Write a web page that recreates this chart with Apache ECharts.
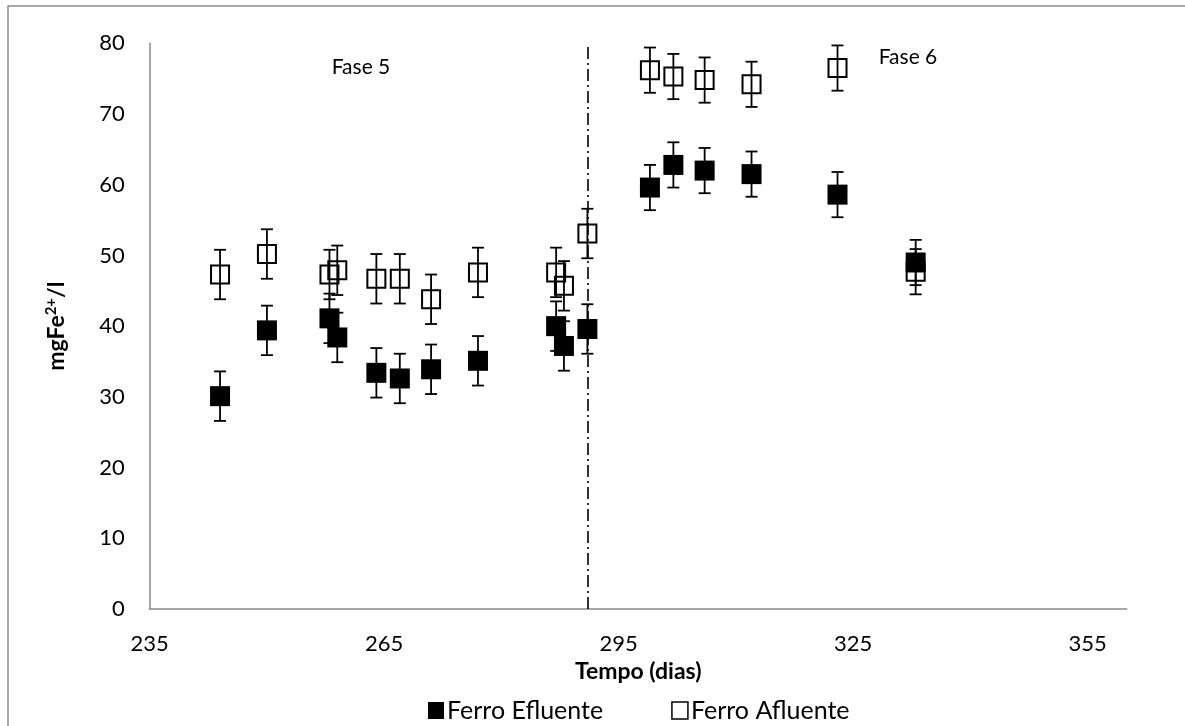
<!DOCTYPE html>
<html>
<head>
<meta charset="utf-8">
<script src="https://cdn.jsdelivr.net/npm/echarts@6/dist/echarts.min.js"></script>
<style>
  html, body { margin: 0; padding: 0; background: #fff; }
  #chart { width: 1185px; height: 726px; }
</style>
</head>
<body>
<div id="chart"></div>
<script>
// dados
const dias = [244, 250, 258, 259, 264, 267, 271, 277, 287, 288, 291, 299, 302, 306, 312, 323, 333];
const ferroEfluente = [30.1, 39.4, 41.1, 38.4, 33.4, 32.6, 33.9, 35.1, 40.0, 37.2, 39.6, 59.6, 62.8, 62.0, 61.5, 58.6, 49.0];
const ferroAfluente = [47.3, 50.2, 47.3, 47.9, 46.7, 46.7, 43.8, 47.6, 47.6, 45.7, 53.1, 76.2, 75.3, 74.8, 74.2, 76.5, 47.7];
const erroEfluente = [3.5, 3.5, 3.5, 3.5, 3.5, 3.5, 3.5, 3.5, 3.5, 3.5, 3.5, 3.2, 3.2, 3.2, 3.2, 3.2, 3.2];
const erroAfluente = [3.5, 3.5, 3.5, 3.5, 3.5, 3.5, 3.5, 3.5, 3.5, 3.5, 3.5, 3.2, 3.2, 3.2, 3.2, 3.2, 3.2];
const divisaoFases = 291;
const eixoX = { min: 235, max: 360, interval: 30 };
const eixoY = { min: 0, max: 80, interval: 10 };

const fonte = 'Lato';

const chart = echarts.init(document.getElementById('chart'));

const pontos = (ys, erros) => dias.map((d, i) => [d, ys[i], erros[i]]);

// barras de erro (linha vertical + tampas)
function barrasErro(params, api) {
    const x = api.value(0), y = api.value(1), e = api.value(2);
    const topo = api.coord([x, y + e]);
    const base = api.coord([x, y - e]);
    const estilo = { stroke: '#000', lineWidth: 1.8 };
    const cap = 6;
    return {
        type: 'group',
        children: [
            { type: 'line', shape: { x1: topo[0], y1: topo[1], x2: base[0], y2: base[1] }, style: estilo },
            { type: 'line', shape: { x1: topo[0] - cap, y1: topo[1], x2: topo[0] + cap, y2: topo[1] }, style: estilo },
            { type: 'line', shape: { x1: base[0] - cap, y1: base[1], x2: base[0] + cap, y2: base[1] }, style: estilo }
        ]
    };
}

const option = {
    animation: false,
    backgroundColor: '#fff',
    textStyle: { fontFamily: fonte, color: '#000' },
    grid: { left: 149.7, right: 58.3, top: 43.3, bottom: 117 },
    graphic: [
        {
            type: 'rect', silent: true, z: -1,
            shape: { x: 8, y: 6, width: 1400, height: 900 },
            style: { fill: 'none', stroke: '#8c8c8c', lineWidth: 1.5 }
        },
        {
            type: 'text', x: 361, y: 67,
            style: { text: 'Fase 5', align: 'center', verticalAlign: 'middle', font: '21px Lato', fill: '#000' }
        },
        {
            type: 'text', x: 908, y: 57,
            style: { text: 'Fase 6', align: 'center', verticalAlign: 'middle', font: '21px Lato', fill: '#000' }
        }
    ],
    legend: {
        left: 423,
        top: 693,
        itemWidth: 16,
        itemHeight: 17,
        itemGap: 68,
        textStyle: { fontFamily: fonte, fontSize: 25, color: '#000', padding: [0, 0, 0, -2] },
        data: [
            { name: 'Ferro Efluente', icon: 'rect', itemStyle: { color: '#000', borderWidth: 0 } },
            { name: 'Ferro Afluente', icon: 'rect', itemStyle: { color: '#fff', borderColor: '#000', borderWidth: 1.5 } }
        ]
    },
    xAxis: {
        type: 'value',
        min: eixoX.min, max: eixoX.max, interval: eixoX.interval,
        name: 'Tempo (dias)',
        nameLocation: 'middle',
        nameGap: 40,
        nameTextStyle: { fontFamily: fonte, fontWeight: 'bold', fontSize: 23, color: '#000' },
        axisLine: { onZero: false, lineStyle: { color: '#8a8a8a', width: 1.5 } },
        axisTick: { show: false },
        splitLine: { show: false },
        axisLabel: { fontFamily: fonte, fontSize: 22, color: '#000', margin: 24, showMaxLabel: false }
    },
    yAxis: {
        type: 'value',
        min: eixoY.min, max: eixoY.max, interval: eixoY.interval,
        name: '{b|mgFe}{s|2+}{b|/l}',
        nameLocation: 'middle',
        nameGap: 80,
        nameTextStyle: {
            rich: {
                b: { fontFamily: fonte, fontWeight: 'bold', fontSize: 23, color: '#000', lineHeight: 26 },
                s: { fontFamily: fonte, fontWeight: 'bold', fontSize: 15, color: '#000', verticalAlign: 'top', lineHeight: 14 }
            }
        },
        axisLine: { show: true, lineStyle: { color: '#8a8a8a', width: 1.5 } },
        axisTick: { show: false },
        splitLine: { show: false },
        axisLabel: { fontFamily: fonte, fontSize: 22, color: '#000', margin: 25 }
    },
    series: [
        {
            name: 'Ferro Afluente',
            type: 'scatter',
            symbol: 'rect',
            symbolSize: 18,
            z: 2,
            itemStyle: { color: 'rgba(255,255,255,0)', borderColor: '#000', borderWidth: 2, opacity: 1 },
            data: pontos(ferroAfluente, erroAfluente),
            markLine: {
                silent: true,
                symbol: 'none',
                label: { show: false },
                lineStyle: { color: '#000', width: 1.6, type: [12, 4, 2, 4] },
                data: [{ xAxis: divisaoFases }]
            }
        },
        {
            name: 'erroAfluente',
            type: 'custom',
            z: 3,
            renderItem: barrasErro,
            encode: { x: 0, y: 1 },
            data: pontos(ferroAfluente, erroAfluente)
        },
        {
            name: 'Ferro Efluente',
            type: 'scatter',
            symbol: 'rect',
            symbolSize: 20,
            z: 4,
            itemStyle: { color: '#000', opacity: 1 },
            data: pontos(ferroEfluente, erroEfluente)
        },
        {
            name: 'erroEfluente',
            type: 'custom',
            z: 5,
            renderItem: barrasErro,
            encode: { x: 0, y: 1 },
            data: pontos(ferroEfluente, erroEfluente)
        }
    ]
};

chart.setOption(option);
</script>
</body>
</html>
